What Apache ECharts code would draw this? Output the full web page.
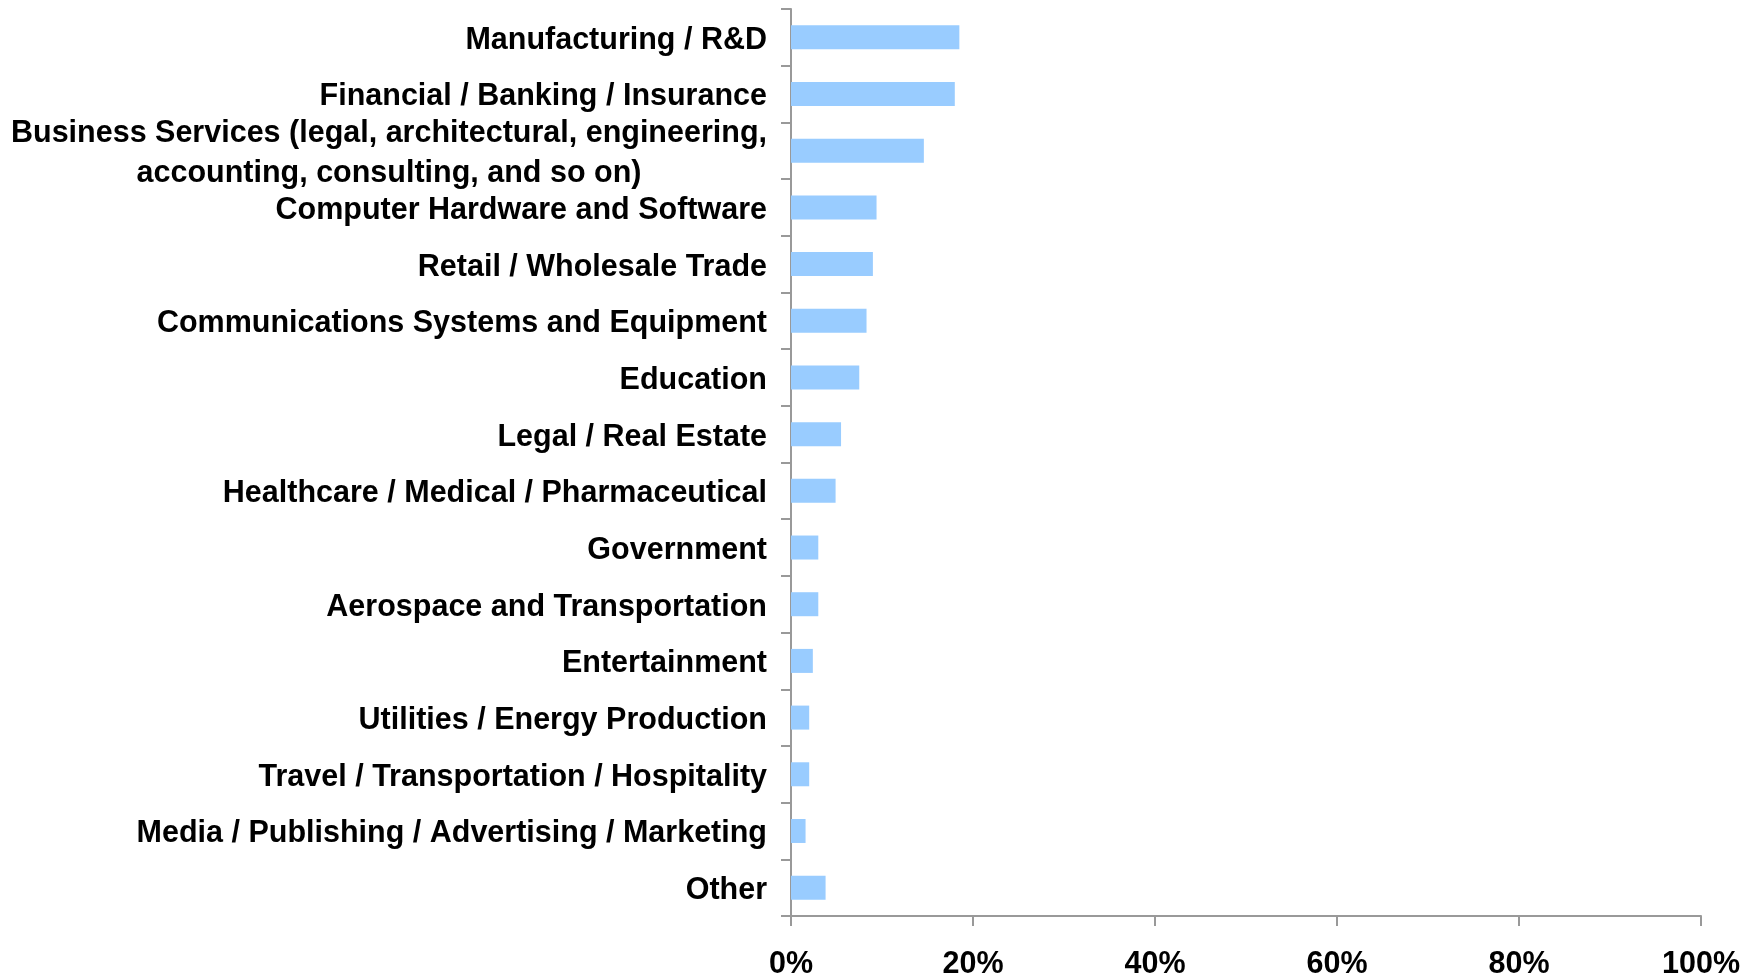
<!DOCTYPE html>
<html><head><meta charset="utf-8">
<script src="https://cdn.jsdelivr.net/npm/echarts@6/dist/echarts.min.js"></script>
<style>html,body{margin:0;padding:0;background:#fff}#c{width:1758px;height:977px}</style>
</head><body><div id="c"></div>
<script>
const categories = [
  "Manufacturing / R&D",
  "Financial / Banking / Insurance",
  "Business Services (legal, architectural, engineering,\naccounting, consulting, and so on)",
  "Computer Hardware and Software",
  "Retail / Wholesale Trade",
  "Communications Systems and Equipment",
  "Education",
  "Legal / Real Estate",
  "Healthcare / Medical / Pharmaceutical",
  "Government",
  "Aerospace and Transportation",
  "Entertainment",
  "Utilities / Energy Production",
  "Travel / Transportation / Hospitality",
  "Media / Publishing / Advertising / Marketing",
  "Other"
];
const values = [18.5, 18.0, 14.6, 9.4, 9.0, 8.3, 7.5, 5.5, 4.9, 3.0, 3.0, 2.4, 2.0, 2.0, 1.6, 3.8];
const xTicks = [0, 20, 40, 60, 80, 100];

const chart = echarts.init(document.getElementById('c'));
const font = '"Liberation Sans", Arial, sans-serif';
const fs = 30.5;
chart.setOption({
  animation: false,
  grid: { left: 791, right: 57, top: 9, bottom: 61, containLabel: false, outerBoundsMode: 'none' },
  xAxis: {
    type: 'value', min: 0, max: 100, interval: 20,
    axisLine: { show: true, lineStyle: { color: '#999', width: 2 } },
    axisTick: { show: true, length: 10, lineStyle: { color: '#999', width: 2 } },
    splitLine: { show: false },
    axisLabel: {
      margin: 33, color: '#000', fontFamily: font, fontWeight: 'bold', fontSize: fs,
      formatter: v => xTicks.includes(v) ? v + '%' : ''
    }
  },
  yAxis: {
    type: 'category', inverse: true, data: categories,
    axisLine: { show: true, lineStyle: { color: '#999', width: 2 } },
    axisTick: { show: true, length: 10, lineStyle: { color: '#999', width: 2 } },
    axisLabel: {
      margin: 24, color: '#000', fontFamily: font, fontWeight: 'bold', fontSize: fs,
      lineHeight: 40, interval: 0, padding: [6, 0, 0, 0],
      formatter: function (v) {
        const parts = v.split('\n');
        if (parts.length === 1) return v;
        return '{a|' + parts[0] + '}\n{b|' + parts[1] + '}';
      },
      rich: {
        a: { fontFamily: font, fontWeight: 'bold', fontSize: fs, color: '#000', lineHeight: 40, align: 'center' },
        b: { fontFamily: font, fontWeight: 'bold', fontSize: fs, color: '#000', lineHeight: 40, align: 'center' }
      }
    }
  },
  series: [{
    type: 'bar', data: values, barWidth: 24,
    itemStyle: { color: '#99ccff' }
  }]
});
</script></body></html>
